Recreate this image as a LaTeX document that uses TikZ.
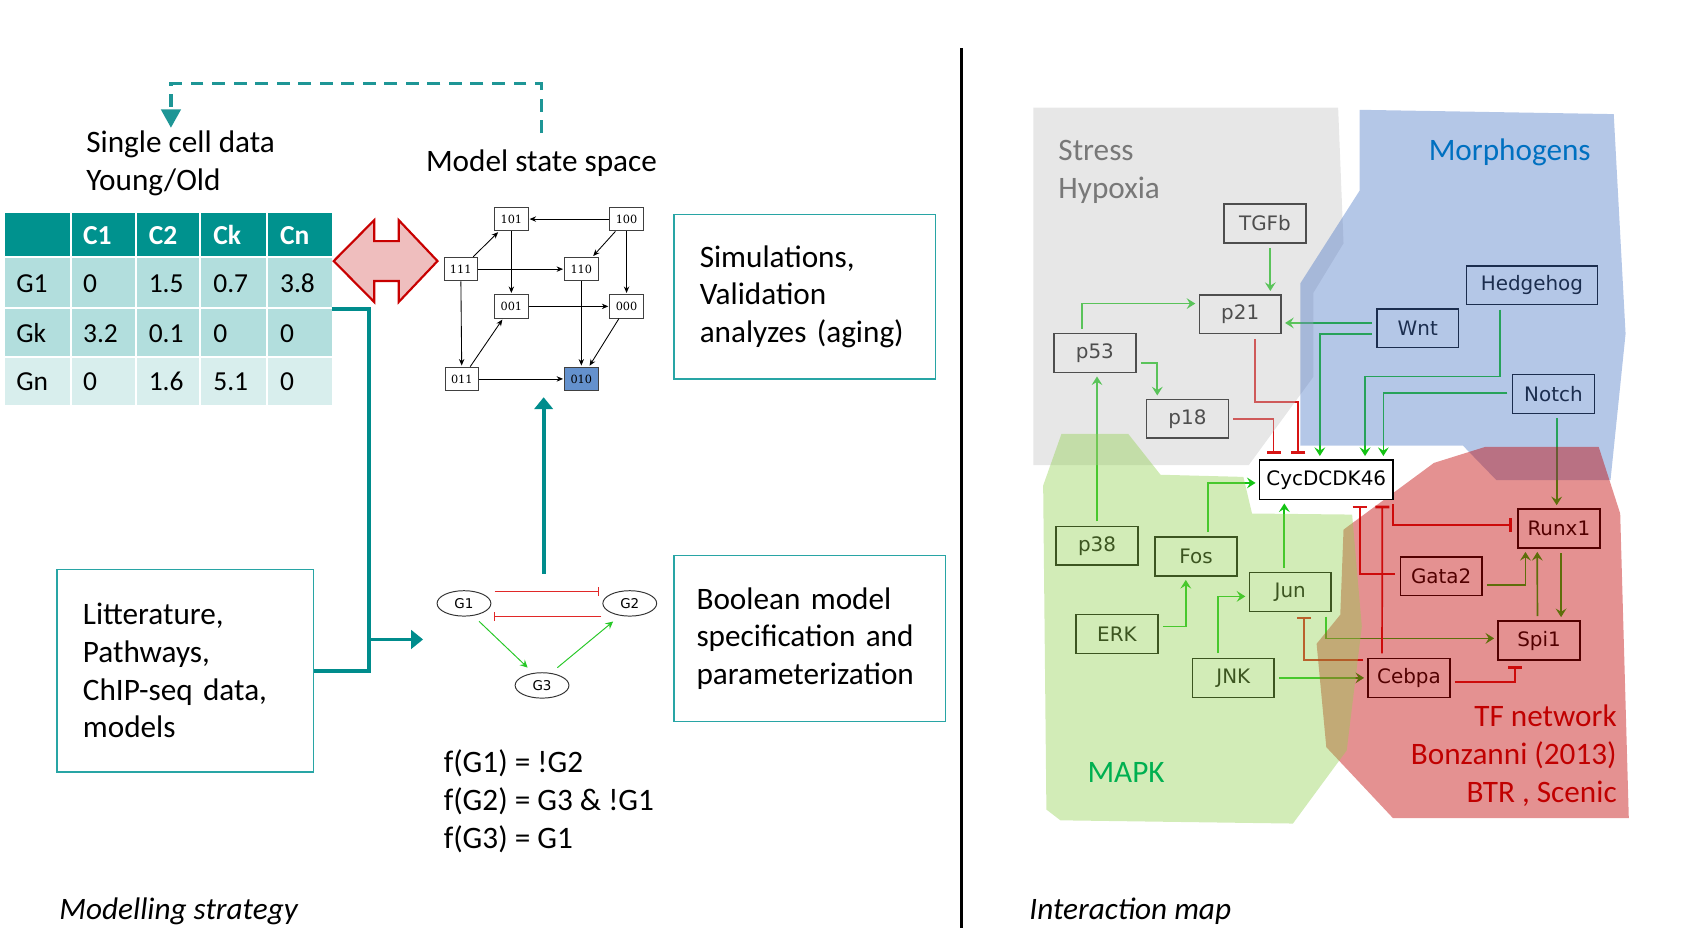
\documentclass[tikz,border=0pt]{standalone}
\usepackage{fontspec}
\setmainfont{Carlito}
\newfontfamily\genefont{DejaVu Sans}
\newfontfamily\statefont{DejaVu Serif}
\usepackage{tikz}
\usetikzlibrary{arrows.meta,shapes.geometric}

\pgfdeclarelayer{shade}
\pgfdeclarelayer{top}
\pgfsetlayers{main,shade,top}

\definecolor{tealdark}{RGB}{0,140,140}
\definecolor{tealhead}{RGB}{0,146,142}
\definecolor{tealrow}{RGB}{178,222,221}
\definecolor{teallight}{RGB}{216,238,237}
\definecolor{tealbox}{RGB}{40,165,165}
\definecolor{tealdash}{RGB}{30,150,150}
\definecolor{arrowred}{RGB}{200,0,0}
\definecolor{arrowpink}{RGB}{239,190,190}
\definecolor{stateblue}{RGB}{100,145,205}
\definecolor{smallgreen}{RGB}{40,200,40}
\definecolor{smallred}{RGB}{225,40,40}
\definecolor{actgreen}{RGB}{20,195,20}
\definecolor{inhred}{RGB}{215,20,20}
\definecolor{regiongray}{RGB}{195,195,195}
\definecolor{regionblue}{RGB}{68,114,196}
\definecolor{regionred}{RGB}{192,0,0}
\definecolor{regiongreen}{RGB}{146,208,80}
\definecolor{labelgray}{RGB}{120,120,120}
\definecolor{labelblue}{RGB}{0,112,192}
\definecolor{labelgreen}{RGB}{0,176,80}
\definecolor{labelred}{RGB}{192,0,0}

\tikzset{
  bigtext/.style={font=\fontsize{29}{35}\selectfont, inner sep=0pt, align=left},
  tabtext/.style={font=\fontsize{25.5}{30}\selectfont, inner sep=0pt, anchor=base west},
  infobox/.style={draw=tealbox, line width=1.3pt, align=left, inner ysep=0pt,
                  font=\fontsize{29}{35}\selectfont},
  statebox/.style={draw=black!75, fill=white, line width=0.9pt, minimum width=31pt,
                   minimum height=22pt, inner sep=0pt,
                   font=\statefont\fontsize{10.5}{12}\selectfont},
  sedge/.style={-{Stealth[length=6pt,width=5pt]}, line width=0.8pt, shorten >=1pt},
  gnode/.style={ellipse, draw=black!80, line width=0.9pt, minimum width=50pt,
                minimum height=23.6pt, inner sep=0pt,
                font=\genefont\fontsize{12.5}{14}\selectfont},
  gact/.style={draw=smallgreen, line width=0.9pt, -{Stealth[length=7pt,width=7pt,inset=2.5pt]}},
  ginh/.style={draw=smallred, line width=0.9pt, -{Bar[width=8pt,line width=1pt]}},
  tline/.style={draw=tealdark, line width=3.5pt},
  dline/.style={draw=tealdash, line width=3pt, dash pattern=on 12pt off 8pt},
  gene/.style={draw=black, line width=1.4pt, minimum width=76pt, minimum height=36pt,
               inner sep=0pt, font=\genefont\fontsize{18.5}{20}\selectfont},
  act/.style={draw=actgreen, line width=1.6pt, shorten <=4pt, shorten >=3pt,
              -{Stealth[length=8pt,width=10pt,inset=3pt]}},
  inh/.style={draw=inhred, line width=1.6pt, shorten <=4pt, shorten >=5pt,
              -{Bar[width=13pt,line width=2.6pt]}}
}

\begin{document}
\begin{tikzpicture}[x=1pt,y=-1pt]
  \useasboundingbox (0,0) rectangle (1568,882);

  % modelling strategy
  \node[bigtext, anchor=base west] (lcell) at (80,177) {Single cell data\\Young/Old};
  \node[bigtext, anchor=base] (lspace) at (503,159) {Model state space};
  \draw[dline, shorten <=15pt, shorten >=3pt, -{Triangle[length=17pt,width=18pt]}]
    (lspace.north) -- ++(0,-61) -| ([xshift=-9pt]lcell.north);

  \fill[tealhead] (5,198) rectangle (308,239);
  \fill[tealrow] (5,239) rectangle (308,332);
  \fill[teallight] (5,332) rectangle (308,376);
  \foreach \gx in {66,126,186,248}
    \draw[white, line width=2pt] (\gx,198) -- (\gx,376);
  \foreach \gy in {239,286,332}
    \draw[white, line width=2pt] (5,\gy) -- (308,\gy);
  \foreach \hx/\hc in {77/C1,138/C2,198/Ck,260/Cn}
    \node[tabtext, text=white, font=\bfseries\fontsize{25.5}{30}\selectfont] (head\hc) at (\hx,227) {\hc};
  \foreach \ry/\rg/\va/\vb/\vc/\vd in {272/G1/0/1.5/0.7/3.8, 318/Gk/3.2/0.1/0/0, 363/Gn/0/1.6/5.1/0}{
    \node[tabtext] (tab\rg) at (15,\ry) {\rg};
    \node[tabtext] (tab\rg-1) at (77,\ry) {\va};
    \node[tabtext] (tab\rg-2) at (138,\ry) {\vb};
    \node[tabtext] (tab\rg-3) at (198,\ry) {\vc};
    \node[tabtext] (tab\rg-4) at (260,\ry) {\vd};
  }

  \draw[draw=arrowred, fill=arrowpink, line width=2pt]
    (310,242.5) -- (347.6,204.5) -- (347.6,224) -- (370.4,224) -- (370.4,204.5)
    -- (406.4,242.5) -- (370.4,280.5) -- (370.4,261) -- (347.6,261) -- (347.6,280.5) -- cycle;

  \node[statebox] (s101) at (475,203.5) {101};
  \node[statebox] (s100) at (582,203.5) {100};
  \node[statebox] (s111) at (428,250) {111};
  \node[statebox] (s110) at (540,250) {110};
  \node[statebox] (s001) at (475,284.6) {001};
  \node[statebox] (s000) at (582,284.6) {000};
  \node[statebox] (s011) at (429,352) {011};
  \node[statebox, fill=stateblue] (s010) at (540,352) {010};
  \draw[sedge] (s100) -- (s101);
  \draw[sedge] (s100) -- (s110);
  \draw[sedge] (s100) -- (s000);
  \draw[sedge] (s111) -- (s101);
  \draw[sedge] (s111) -- (s110);
  \draw[sedge] (s111) -- (s011);
  \draw[sedge] (s101) -- (s001);
  \draw[sedge] (s001) -- (s000);
  \draw[sedge] (s011) -- (s001);
  \draw[sedge] (s011) -- (s010);
  \draw[sedge] (s110) -- (s010);
  \draw[sedge] (s000) -- (s010);

  \node[infobox, text width=195pt, inner xsep=24pt, minimum height=153pt] (sim) at (747.5,275.5)
    {Simulations,\\Validation\\analyzes (aging)};
  \node[infobox, text width=210pt, inner xsep=21pt, minimum height=154pt] (bool) at (752,593)
    {Boolean model\\specification and\\parameterization};
  \node[infobox, text width=190pt, inner xsep=24pt, minimum height=188pt] (lit) at (172,623)
    {Litterature,\\Pathways,\\ChIP-seq data,\\models};

  \node[gnode] (G1) at (431,560.5) {G1};
  \node[gnode] (G2) at (585,560.5) {G2};
  \node[gnode] (G3) at (503.5,636.7) {G3};
  \draw[ginh] ([xshift=3pt,yshift=10.8pt]G1.east) -- ([xshift=-3pt,yshift=10.8pt]G2.west);
  \draw[ginh] ([xshift=-1pt,yshift=-12.4pt]G2.west) -- ([xshift=2pt,yshift=-12.4pt]G1.east);
  \draw[gact] ([xshift=-4pt,yshift=-8pt]G1.south east) -- ([xshift=4.6pt,yshift=7.9pt]G3.north west);
  \draw[gact] ([xshift=-3.8pt,yshift=7.8pt]G3.north east) -- ([xshift=2.5pt,yshift=-8.2pt]G2.south west);

  \coordinate (tabout) at (308,287);
  \coordinate (tjoin) at (343,623);
  \coordinate (gin) at (393,594);
  \coordinate (gup) at (505,533);
  \coordinate (sdown) at (505,369);
  \draw[tline] (tabout) -| (tjoin) -- (lit.east);
  \draw[tline, -{Triangle[length=11pt,width=17pt]}] (tjoin |- gin) -- (gin);
  \draw[tline, -{Triangle[length=11pt,width=17pt]}] (gup) -- (sdown);

  \node[bigtext, anchor=base west] (frules) at (412,788)
    {f(G1) = !G2\\f(G2) = G3 \& !G1\\f(G3) = G1};
  \node[inner sep=0pt, anchor=base west, font=\itshape\fontsize{29}{35}\selectfont] (lmodel) at (55,854)
    {Modelling strategy};

  \draw[line width=3pt] (893,45) -- (893,862);

  % interaction map
  \node[gene] (TGFb) at (1175,207.5) {TGFb};
  \node[gene] (p21) at (1152,292) {p21};
  \node[gene] (p53) at (1017,328) {p53};
  \node[gene] (p18) at (1103,389) {p18};
  \node[gene, minimum width=122pt] (Hedgehog) at (1423,265) {Hedgehog};
  \node[gene] (Wnt) at (1317,305) {Wnt};
  \node[gene] (Notch) at (1443,366) {Notch};
  \begin{pgfonlayer}{top}
    \node[gene, fill=white, minimum width=124pt, minimum height=36.6pt] (CycD) at (1232,445.6) {CycDCDK46};
  \end{pgfonlayer}
  \node[gene] (p38) at (1019,507) {p38};
  \node[gene] (Fos) at (1111,517) {Fos};
  \node[gene] (Jun) at (1198.5,550) {Jun};
  \node[gene] (ERK) at (1037.5,589) {ERK};
  \node[gene] (JNK) at (1145.6,629.7) {JNK};
  \node[gene] (Runx1) at (1448,491) {Runx1};
  \node[gene] (Gata2) at (1338.7,535.3) {Gata2};
  \node[gene] (Spi1) at (1429.6,595) {Spi1};
  \node[gene] (Cebpa) at (1308.8,629.7) {Cebpa};

  \draw[act] ([xshift=5pt]TGFb.south) -- ([xshift=28pt]p21.north);
  \draw[act] ([xshift=-12pt]p53.north) |- ([yshift=10pt]p21.west);
  \draw[act] ([yshift=-9pt]p53.east) -| ([xshift=-28pt]p18.north);
  \draw[act] (p38.north) -- ([xshift=2pt]p53.south);
  \draw[inh] ([xshift=14pt]p21.south) -- ++(0,63) -| ([xshift=-26pt]CycD.north);
  \draw[inh] (p18.east) -| ([xshift=-49pt]CycD.north);
  \draw[act] ([yshift=5pt]Wnt.west) -- ([yshift=-8pt]p21.east);
  \draw[act] ([yshift=-5pt]Wnt.west) -| ([xshift=-6pt]CycD.north);
  \draw[act] ([xshift=-29.5pt]Hedgehog.south) -- ++(0,66) -| ([xshift=36pt]CycD.north);
  \draw[act] ([yshift=1pt]Notch.west) -| ([xshift=53pt]CycD.north);
  \draw[act] ([xshift=3pt]Notch.south) -- ([xshift=-2pt]Runx1.north);
  \draw[act] ([xshift=11pt]Fos.north) |- ([yshift=-3pt]CycD.west);
  \draw[act] ([xshift=-5.5pt]Jun.north) -- ([xshift=-39pt]CycD.south);
  \draw[act] ([yshift=7pt]ERK.east) -| ([xshift=-9.5pt]Fos.south);
  \draw[act] ([xshift=-14pt]JNK.north) |- ([yshift=-4pt]Jun.west);
  \draw[act] (JNK.east) -- (Cebpa.west);
  \draw[act] ([xshift=33pt]Jun.south) |- ([yshift=2pt]Spi1.west);
  \draw[inh, shorten >=4pt] ([yshift=16.5pt]Cebpa.west) -| ([xshift=13pt]Jun.south);
  \draw[inh] ([xshift=-25pt]Cebpa.north) -- ([xshift=52pt]CycD.south);
  \draw[inh] ([yshift=2pt]Gata2.west) -| ([xshift=31pt]CycD.south);
  \draw[inh] ([xshift=-1pt]CycD.south east) |- ([yshift=3pt]Runx1.west);
  \draw[act] ([yshift=-8pt]Gata2.east) -| ([xshift=-31pt]Runx1.south);
  \draw[act] ([xshift=-1.5pt]Spi1.north) -- ([xshift=-20pt]Runx1.south);
  \draw[act] ([xshift=2pt]Runx1.south) -- ([xshift=20.5pt]Spi1.north);
  \draw[inh] ([yshift=-3.5pt]Cebpa.east) -| ([xshift=-22pt]Spi1.south);

  \begin{pgfonlayer}{shade}
    \fill[regiongray, fill opacity=0.4] (960,100) -- (1243,100) -- (1248,226) -- (1220,272)
      -- (1220,350) -- (1160,432) -- (960,432) -- cycle;
    \fill[regionblue, fill opacity=0.4] (1263,102) -- (1499,106) -- (1510,310) -- (1496,446)
      -- (1390,446) -- (1359,414) -- (1208,414) -- (1208,263) -- (1263,177) -- cycle;
    \fill[regionred, fill opacity=0.43] (1248,492) -- (1332,430) -- (1380,415) -- (1485,415)
      -- (1505,477) -- (1513,760) -- (1294,760) -- (1232,694) -- (1223,598) -- (1245,571) -- cycle;
    \fill[regiongreen, fill opacity=0.41] (986,403) -- (1048,403) -- (1078,441) -- (1155,443)
      -- (1163,477) -- (1256,478) -- (1265,582) -- (1251,697) -- (1201,765) -- (985,762)
      -- (972,752) -- (969,451) -- cycle;
  \end{pgfonlayer}

  \begin{pgfonlayer}{top}
    \node[bigtext, text=labelgray, anchor=base west] (lstress) at (983,184) {Stress\\Hypoxia};
    \node[bigtext, text=labelblue, anchor=base west] (lmorph) at (1327,149) {Morphogens};
    \node[bigtext, text=labelgreen, anchor=base west] (lmapk) at (1010,727) {MAPK};
    \node[bigtext, text=labelred, anchor=base east, align=right] (ltf) at (1502,745)
      {TF network\\Bonzanni (2013)\\BTR , Scenic};
  \end{pgfonlayer}
  \node[inner sep=0pt, anchor=base west, font=\itshape\fontsize{29}{35}\selectfont] (lmap) at (956,854)
    {Interaction map};
\end{tikzpicture}
\end{document}
